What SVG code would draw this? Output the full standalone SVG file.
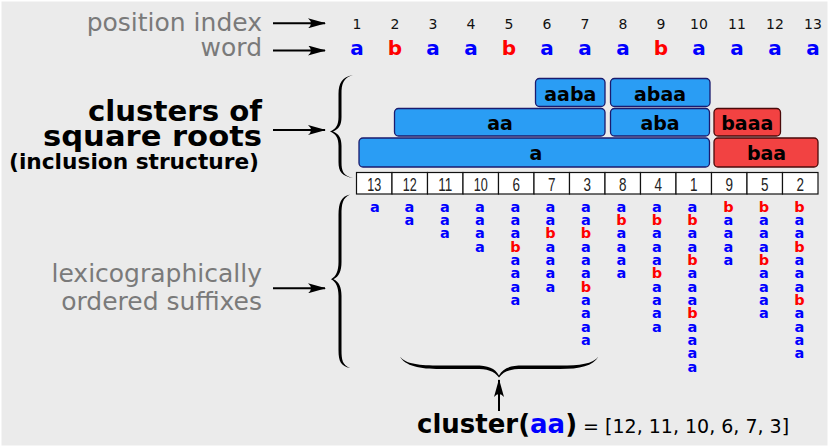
<svg xmlns="http://www.w3.org/2000/svg" width="829" height="447" viewBox="0 0 829 447">
  <style>
    .lbl { font-family: "DejaVu Sans", Verdana, sans-serif; fill: #7a7a7a; font-size: 25px; text-anchor: end; }
    .big { font-family: "DejaVu Sans", Verdana, sans-serif; font-weight: bold; fill: #000; text-anchor: end; }
    .idx { font-family: "DejaVu Sans", Verdana, sans-serif; font-size: 14px; fill: #111; text-anchor: middle; }
    .w { font-family: "DejaVu Sans", Verdana, sans-serif; font-size: 20px; font-weight: bold; text-anchor: middle; }
    .s { font-family: "DejaVu Sans", Verdana, sans-serif; font-size: 14.5px; font-weight: bold; text-anchor: middle; fill: #0000ff; }
    .a { fill: #0000ff; }
    .b { fill: #ff0000; }
    .boxA { fill: #2a9df4; stroke: #1b1b6e; stroke-width: 1.3; }
    .boxB { fill: #f24242; stroke: #4a0a0a; stroke-width: 1.3; }
    .bt { font-family: "DejaVu Sans", Verdana, sans-serif; font-size: 19px; font-weight: bold; fill: #000; text-anchor: middle; }
    .cell { fill: #fff; stroke: #111; stroke-width: 1.2; }
    .cn { font-family: "Liberation Sans", Arial, sans-serif; font-size: 19px; fill: #222; text-anchor: middle; }
    .arr { stroke: #000; stroke-width: 2; fill: none; marker-end: url(#head); }
    .brace { fill: #000; }
  </style>
  <defs>
    <marker id="head" viewBox="0 0 18 10" refX="17" refY="5" markerWidth="18" markerHeight="10" markerUnits="userSpaceOnUse" orient="auto">
      <path d="M18,5 L0,0 Q6,5 0,10 Z" fill="#000"/>
    </marker>
  </defs>

  <!-- page -->
  <rect x="0" y="0" width="829" height="447" fill="#ffffff"/>
  <rect x="1.5" y="1.5" width="826" height="444" fill="#ebebeb"/>

  <!-- left-hand labels -->
  <g id="label-position">
    <text class="lbl" x="262" y="31">position index</text>
  </g>
  <g id="label-word">
    <text class="lbl" x="262" y="56">word</text>
  </g>
  <g id="label-clusters">
    <text class="big" x="262" y="121" font-size="28" textLength="174" lengthAdjust="spacingAndGlyphs">clusters of</text>
    <text class="big" x="262" y="146" font-size="28" textLength="219" lengthAdjust="spacingAndGlyphs">square roots</text>
    <text class="big" x="259" y="169" font-size="21" textLength="250" lengthAdjust="spacingAndGlyphs">(inclusion structure)</text>
  </g>
  <g id="label-suffixes">
    <text class="lbl" x="262" y="282">lexicographically</text>
    <text class="lbl" x="262" y="310">ordered suffixes</text>
  </g>

  <!-- position index row -->
  <g id="positions">
    <text class="idx" x="357" y="29">1</text>
    <text class="idx" x="395" y="29">2</text>
    <text class="idx" x="433" y="29">3</text>
    <text class="idx" x="471" y="29">4</text>
    <text class="idx" x="509" y="29">5</text>
    <text class="idx" x="547" y="29">6</text>
    <text class="idx" x="585" y="29">7</text>
    <text class="idx" x="623" y="29">8</text>
    <text class="idx" x="661" y="29">9</text>
    <text class="idx" x="699" y="29">10</text>
    <text class="idx" x="737" y="29">11</text>
    <text class="idx" x="775" y="29">12</text>
    <text class="idx" x="813" y="29">13</text>
  </g>

  <!-- the word abaabaaabaaaa -->
  <g id="word">
    <text class="w a" x="357" y="55">a</text>
    <text class="w b" x="395" y="55">b</text>
    <text class="w a" x="433" y="55">a</text>
    <text class="w a" x="471" y="55">a</text>
    <text class="w b" x="509" y="55">b</text>
    <text class="w a" x="547" y="55">a</text>
    <text class="w a" x="585" y="55">a</text>
    <text class="w a" x="623" y="55">a</text>
    <text class="w b" x="661" y="55">b</text>
    <text class="w a" x="699" y="55">a</text>
    <text class="w a" x="737" y="55">a</text>
    <text class="w a" x="775" y="55">a</text>
    <text class="w a" x="813" y="55">a</text>
  </g>

  <!-- clusters of square roots -->
  <g id="cluster-aaba">
    <rect class="boxA" x="535.5" y="78.5" width="69.5" height="28" rx="4"/>
    <text class="bt" x="570.3" y="100.5">aaba</text>
  </g>
  <g id="cluster-abaa">
    <rect class="boxA" x="610.5" y="78.5" width="99.5" height="28" rx="4"/>
    <text class="bt" x="660" y="100.5">abaa</text>
  </g>
  <g id="cluster-aa">
    <rect class="boxA" x="394.5" y="108.5" width="210.5" height="27.5" rx="4"/>
    <text class="bt" x="500" y="129.5">aa</text>
  </g>
  <g id="cluster-aba">
    <rect class="boxA" x="610.5" y="108.5" width="99" height="27.5" rx="4"/>
    <text class="bt" x="660" y="129.5">aba</text>
  </g>
  <g id="cluster-baaa">
    <rect class="boxB" x="714" y="108.5" width="66.5" height="27.5" rx="4"/>
    <text class="bt" x="747.3" y="129.5">baaa</text>
  </g>
  <g id="cluster-a">
    <rect class="boxA" x="359" y="138" width="350.5" height="29" rx="4"/>
    <text class="bt" x="536" y="160">a</text>
  </g>
  <g id="cluster-baa">
    <rect class="boxB" x="714" y="138" width="104" height="29" rx="4"/>
    <text class="bt" x="766.5" y="160">baa</text>
  </g>

  <!-- suffix array -->
  <g id="suffix-array">
    <rect class="cell" x="356.5" y="172.5" width="35.5" height="21.5"/>
    <rect class="cell" x="392" y="172.5" width="35.5" height="21.5"/>
    <rect class="cell" x="427.5" y="172.5" width="35.5" height="21.5"/>
    <rect class="cell" x="463" y="172.5" width="35.5" height="21.5"/>
    <rect class="cell" x="498.5" y="172.5" width="35.5" height="21.5"/>
    <rect class="cell" x="534" y="172.5" width="35.5" height="21.5"/>
    <rect class="cell" x="569.5" y="172.5" width="35.5" height="21.5"/>
    <rect class="cell" x="605" y="172.5" width="35.5" height="21.5"/>
    <rect class="cell" x="640.5" y="172.5" width="35.5" height="21.5"/>
    <rect class="cell" x="676" y="172.5" width="35.5" height="21.5"/>
    <rect class="cell" x="711.5" y="172.5" width="35.5" height="21.5"/>
    <rect class="cell" x="747" y="172.5" width="35.5" height="21.5"/>
    <rect class="cell" x="782.5" y="172.5" width="35.5" height="21.5"/>
    <text class="cn" x="374.25" y="190.5" textLength="14" lengthAdjust="spacingAndGlyphs">13</text>
    <text class="cn" x="409.75" y="190.5" textLength="14" lengthAdjust="spacingAndGlyphs">12</text>
    <text class="cn" x="445.25" y="190.5" textLength="14" lengthAdjust="spacingAndGlyphs">11</text>
    <text class="cn" x="480.75" y="190.5" textLength="14" lengthAdjust="spacingAndGlyphs">10</text>
    <text class="cn" x="516.25" y="190.5" textLength="7.5" lengthAdjust="spacingAndGlyphs">6</text>
    <text class="cn" x="551.75" y="190.5" textLength="7.5" lengthAdjust="spacingAndGlyphs">7</text>
    <text class="cn" x="587.25" y="190.5" textLength="7.5" lengthAdjust="spacingAndGlyphs">3</text>
    <text class="cn" x="622.75" y="190.5" textLength="7.5" lengthAdjust="spacingAndGlyphs">8</text>
    <text class="cn" x="658.25" y="190.5" textLength="7.5" lengthAdjust="spacingAndGlyphs">4</text>
    <text class="cn" x="693.75" y="190.5" textLength="7.5" lengthAdjust="spacingAndGlyphs">1</text>
    <text class="cn" x="729.25" y="190.5" textLength="7.5" lengthAdjust="spacingAndGlyphs">9</text>
    <text class="cn" x="764.75" y="190.5" textLength="7.5" lengthAdjust="spacingAndGlyphs">5</text>
    <text class="cn" x="800.25" y="190.5" textLength="7.5" lengthAdjust="spacingAndGlyphs">2</text>
  </g>

  <!-- sorted suffixes, one vertical column per suffix-array entry;
       every column shares the same row baselines -->
  <g id="suffixes">
    <!-- 13: a -->
    <text class="s" x="375" y="211.5">a</text>
    <!-- 12: aa -->
    <text class="s" x="409.5 409.5" y="211.5 224.8">aa</text>
    <!-- 11: aaa -->
    <text class="s" x="445 445 445" y="211.5 224.8 238.2">aaa</text>
    <!-- 10: aaaa -->
    <text class="s" x="480 480 480 480" y="211.5 224.8 238.2 251.5">aaaa</text>
    <!-- 6: aaabaaaa -->
    <text class="s" x="515.5 515.5 515.5 515.5 515.5 515.5 515.5 515.5" y="211.5 224.8 238.2 251.5 264.8 278.2 291.5 304.8">aaa<tspan class="b">b</tspan>aaaa</text>
    <!-- 7: aabaaaa -->
    <text class="s" x="550.5 550.5 550.5 550.5 550.5 550.5 550.5" y="211.5 224.8 238.2 251.5 264.8 278.2 291.5">aa<tspan class="b">b</tspan>aaaa</text>
    <!-- 3: aabaaabaaaa -->
    <text class="s" x="586 586 586 586 586 586 586 586 586 586 586" y="211.5 224.8 238.2 251.5 264.8 278.2 291.5 304.8 318.2 331.5 344.8">aa<tspan class="b">b</tspan>aaa<tspan class="b">b</tspan>aaaa</text>
    <!-- 8: abaaaa -->
    <text class="s" x="621.5 621.5 621.5 621.5 621.5 621.5" y="211.5 224.8 238.2 251.5 264.8 278.2">a<tspan class="b">b</tspan>aaaa</text>
    <!-- 4: abaaabaaaa -->
    <text class="s" x="657 657 657 657 657 657 657 657 657 657" y="211.5 224.8 238.2 251.5 264.8 278.2 291.5 304.8 318.2 331.5">a<tspan class="b">b</tspan>aaa<tspan class="b">b</tspan>aaaa</text>
    <!-- 1: abaabaaabaaaa -->
    <text class="s" x="692.5 692.5 692.5 692.5 692.5 692.5 692.5 692.5 692.5 692.5 692.5 692.5 692.5" y="211.5 224.8 238.2 251.5 264.8 278.2 291.5 304.8 318.2 331.5 344.8 358.2 371.5">a<tspan class="b">b</tspan>aa<tspan class="b">b</tspan>aaa<tspan class="b">b</tspan>aaaa</text>
    <!-- 9: baaaa -->
    <text class="s" x="728.5 728.5 728.5 728.5 728.5" y="211.5 224.8 238.2 251.5 264.8"><tspan class="b">b</tspan>aaaa</text>
    <!-- 5: baaabaaaa -->
    <text class="s" x="764 764 764 764 764 764 764 764 764" y="211.5 224.8 238.2 251.5 264.8 278.2 291.5 304.8 318.2"><tspan class="b">b</tspan>aaa<tspan class="b">b</tspan>aaaa</text>
    <!-- 2: baabaaabaaaa -->
    <text class="s" x="799.5 799.5 799.5 799.5 799.5 799.5 799.5 799.5 799.5 799.5 799.5 799.5" y="211.5 224.8 238.2 251.5 264.8 278.2 291.5 304.8 318.2 331.5 344.8 358.2"><tspan class="b">b</tspan>aa<tspan class="b">b</tspan>aaa<tspan class="b">b</tspan>aaaa</text>
  </g>

  <!-- braces -->
  <g id="brace-clusters">
    <path class="brace" d="M353,75 C342,77 338.5,83 338.5,94 L338.5,117 C338.5,125 336,129 330,131.5 C336,134 338.5,138 338.5,146 L338.5,162 C338.5,172 342,176 353,178 C343,175.5 341.5,171 341.5,162 L341.5,146 C341.5,138 339,134 333,131.5 C339,129 341.5,125 341.5,117 L341.5,94 C341.5,84 343,78 353,75 Z"/>
  </g>
  <g id="brace-suffixes">
    <path class="brace" d="M350,194.5 C341,196.5 338.5,203 338.5,215 L338.5,262 C338.5,271 336,276.5 331,279.3 C336,282 338.5,287 338.5,296 L338.5,350 C338.5,362 341,366 350,368 C342.5,365 341.5,360 341.5,350 L341.5,296 C341.5,287 339,282 333.5,279.3 C339,276.5 341.5,271 341.5,262 L341.5,215 C341.5,204 342.5,198 350,194.5 Z"/>
  </g>
  <g id="brace-cluster-aa">
    <path class="brace" d="M400,356.5 C405,364 420,365.5 440,365.5 L475,365.5 C488,365.5 495,368 499,375.5 C503,368 510,365.5 523,365.5 L560,365.5 C580,365.5 593,364 598.5,356.5 C593,366 580,369 560,369 L523,369 C511,369 504,370.5 499,377.5 C494,370.5 487,369 475,369 L440,369 C420,369 405,366 400,356.5 Z"/>
  </g>

  <!-- connectors -->
  <g id="connectors">
    <line class="arr" x1="273" y1="23.3" x2="325" y2="23.3"/>
    <line class="arr" x1="273" y1="50.5" x2="325" y2="50.5"/>
    <line class="arr" x1="273" y1="130" x2="325" y2="130"/>
    <line class="arr" x1="273" y1="288.3" x2="325" y2="288.3"/>
    <line class="arr" x1="499" y1="411" x2="499" y2="380"/>
  </g>

  <!-- caption -->
  <g id="caption">
    <text x="417" y="433" font-family="DejaVu Sans, Verdana, sans-serif"><tspan font-weight="bold" font-size="26">cluster(</tspan><tspan font-weight="bold" font-size="26" fill="#0000ff">aa</tspan><tspan font-weight="bold" font-size="26">)</tspan><tspan font-size="19"> = [12, 11, 10, 6, 7, 3]</tspan></text>
  </g>
</svg>
